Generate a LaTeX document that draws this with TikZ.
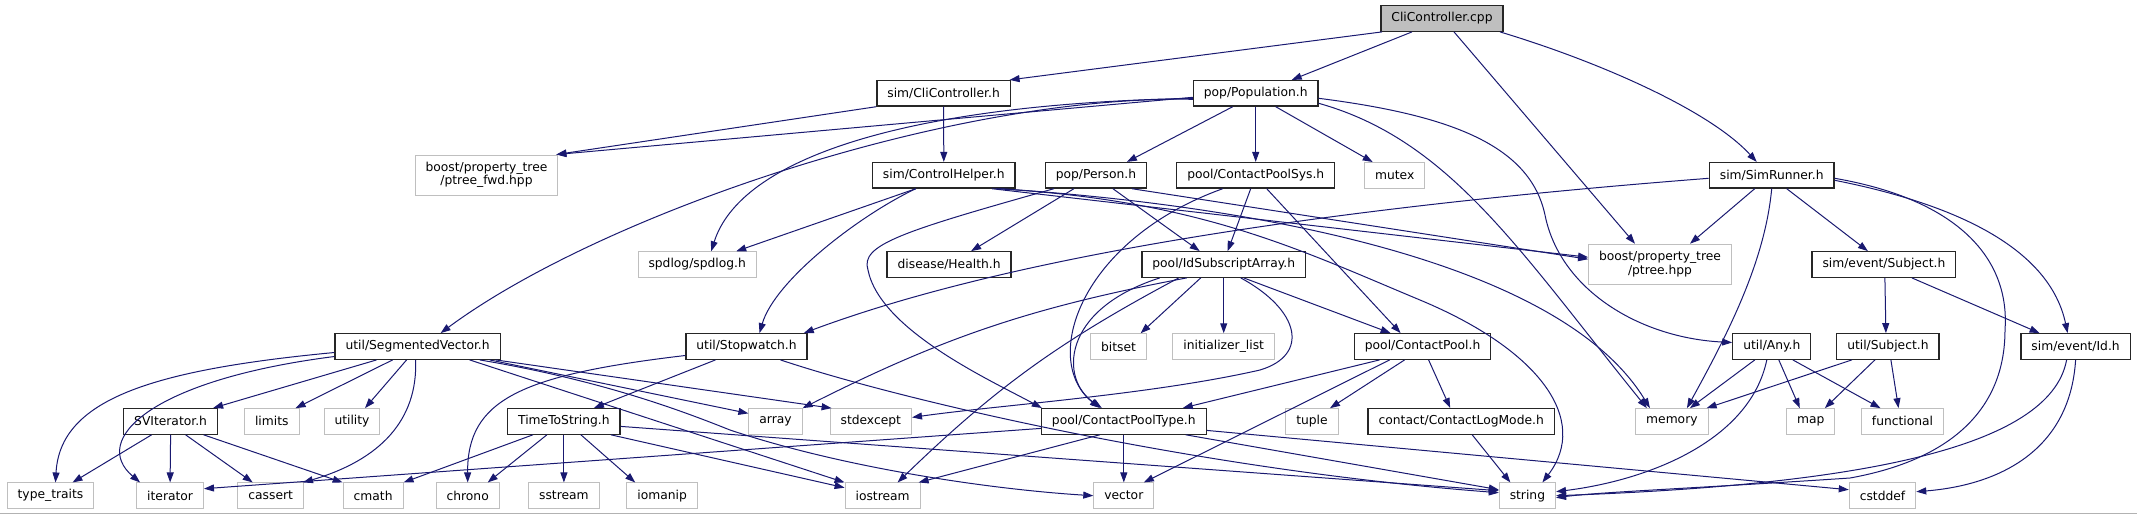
\documentclass[tikz,border=0pt]{standalone}
\usepackage{fontspec}
\setmainfont{DejaVu Sans}
\usetikzlibrary{arrows.meta}

\begin{document}
\begin{tikzpicture}[
        x=1pt, y=-1pt,
        hdr/.style={draw=black!85, line width=1.3pt, fill=white, align=center, inner xsep=10.5pt, inner ysep=0pt, minimum height=25.5pt, font=\fontsize{12.3}{13.5}\selectfont},
        sysh/.style={hdr, draw=black!25, line width=1pt},
        srcf/.style={hdr, fill=black!25},
        twol/.style={minimum height=40pt},
        dep/.style={-{Triangle[length=10pt,width=7pt]}, draw={rgb,255:red,25;green,25;blue,112}, line width=1pt}
    ]
        \useasboundingbox (0,0) rectangle (2137,515);
        \draw[black!30, line width=1pt] (0,513.5) -- (2137,513.5);

        % rows of headers, top to bottom
        \node[srcf] (cpp) at (1442,18.5) {CliController.cpp};
        \node[hdr] (cli) at (943.6,93.3) {sim/CliController.h};
        \node[hdr] (popu) at (1255.7,93.3) {pop/Population.h};

        \node[sysh, twol] (fwd) at (486.5,175) {boost/property\_tree\\/ptree\_fwd.hpp};
        \node[hdr] (ctrl) at (943.8,175.3) {sim/ControlHelper.h};
        \node[hdr] (person) at (1095.9,175.3) {pop/Person.h};
        \node[hdr] (sys) at (1255.7,175.3) {pool/ContactPoolSys.h};
        \node[sysh] (mutex) at (1394.7,175.3) {mutex};
        \node[hdr] (runner) at (1771.7,175.3) {sim/SimRunner.h};

        \node[sysh] (spdlog) at (697.2,264.5) {spdlog/spdlog.h};
        \node[hdr] (health) at (949.1,264.5) {disease/Health.h};
        \node[hdr] (idsub) at (1223.7,264.5) {pool/IdSubscriptArray.h};
        \node[sysh, twol] (ptree) at (1660,264.2) {boost/property\_tree\\/ptree.hpp};
        \node[hdr] (subj) at (1883.9,264.5) {sim/event/Subject.h};

        \node[hdr] (segvec) at (417.6,346.5) {util/SegmentedVector.h};
        \node[hdr] (watch) at (746.5,346.5) {util/Stopwatch.h};
        \node[sysh] (bitset) at (1118.6,346.5) {bitset};
        \node[sysh] (initlist) at (1223.7,346.5) {initializer\_list};
        \node[hdr] (cpool) at (1422.6,346.5) {pool/ContactPool.h};
        \node[hdr] (any) at (1771.8,346.5) {util/Any.h};
        \node[hdr] (usubj) at (1887.9,346.5) {util/Subject.h};
        \node[hdr] (eid) at (2075.6,346.5) {sim/event/Id.h};

        \node[hdr] (sviter) at (170.6,421.4) {SVIterator.h};
        \node[sysh] (limits) at (271.8,421.4) {limits};
        \node[sysh] (utility) at (352,421.4) {utility};
        \node[hdr] (tts) at (563.9,421.4) {TimeToString.h};
        \node[sysh] (array) at (775.5,421.4) {array};
        \node[sysh] (stdexcept) at (870.8,421.4) {stdexcept};
        \node[hdr] (cptype) at (1123.8,421.4) {pool/ContactPoolType.h};
        \node[sysh] (tuple) at (1312,421.4) {tuple};
        \node[hdr] (logmode) at (1461.2,421.4) {contact/ContactLogMode.h};
        \node[sysh] (memory) at (1671.9,421.4) {memory};
        \node[sysh] (map) at (1810.8,421.4) {map};
        \node[sysh] (functional) at (1902.5,421.4) {functional};

        \node[sysh] (typetr) at (50.5,495.7) {type\_traits};
        \node[sysh] (iterator) at (170.1,495.7) {iterator};
        \node[sysh] (cassert) at (270.7,495.7) {cassert};
        \node[sysh] (cmath) at (373.1,495.7) {cmath};
        \node[sysh] (chrono) at (467.7,495.7) {chrono};
        \node[sysh] (sstream) at (563.9,495.7) {sstream};
        \node[sysh] (iomanip) at (662.2,495.7) {iomanip};
        \node[sysh] (iostream) at (882.6,495.7) {iostream};
        \node[sysh] (vector) at (1123.8,495.7) {vector};
        \node[sysh] (string) at (1527.4,495.7) {string};
        \node[sysh] (cstddef) at (1882.5,495.7) {cstddef};

        % CliController.cpp
        \draw[dep] ([xshift=-60pt]cpp.south) -- ([xshift=66pt]cli.north);
        \draw[dep] ([xshift=-30pt]cpp.south) -- ([xshift=36pt]popu.north);
        \draw[dep] ([xshift=12pt]cpp.south) -- ([xshift=-25pt]ptree.north);
        \draw[dep] ([xshift=58pt]cpp.south) .. controls (1600,62) and (1710,110.7) .. ([xshift=-15pt]runner.north);

        % sim/CliController.h and pop/Population.h
        \draw[dep] (cli.south west) -- ([xshift=-2pt]fwd.north east);
        \draw[dep] (cli.south) -- (ctrl.north);
        \draw[dep] ([yshift=-4pt]popu.west) -- ([xshift=-2pt]fwd.north east);
        \draw[dep] ([yshift=-5pt]popu.west) .. controls (900,104) and (740,160) .. ([xshift=14pt]spdlog.north);
        \draw[dep] ([yshift=-6pt]popu.west) .. controls (950,95) and (600,215) .. ([xshift=23pt]segvec.north);
        \draw[dep] ([xshift=-23pt]popu.south) -- ([xshift=31pt]person.north);
        \draw[dep] (popu.south) -- (sys.north);
        \draw[dep] ([xshift=20pt]popu.south) -- ([xshift=-22pt]mutex.north);
        \draw[dep] ([yshift=-10pt]popu.east) .. controls (1450,140) and (1520,251.7) .. ([xshift=-25pt]memory.north);
        \draw[dep] ([yshift=-5pt]popu.east) .. controls (1450,115) and (1530,145) .. (1545,215)
            .. controls (1560,290) and (1640,338) .. ([yshift=4pt]any.west);

        % second row
        \draw[dep] ([xshift=-28pt]ctrl.south) -- ([xshift=39pt]spdlog.north);
        \draw[dep] ([xshift=-28pt]ctrl.south) .. controls (860,215) and (775,280) .. ([xshift=13pt]watch.north);
        \draw[dep] ([xshift=48pt]ctrl.south) -- ([yshift=7pt]ptree.west);
        \draw[dep] ([xshift=56pt]ctrl.south) .. controls (1250,205) and (1560,260) .. ([xshift=-22pt]memory.north);
        \draw[dep] ([xshift=52pt]ctrl.south) .. controls (1200,200) and (1300,250) .. (1420,300)
            .. controls (1540,350) and (1590,420) .. ([xshift=15pt]string.north);
        \draw[dep] ([xshift=36pt]person.south) -- ([yshift=5pt]ptree.west);
        \draw[dep] ([xshift=-22pt]person.south) -- ([xshift=22pt]health.north);
        \draw[dep] ([xshift=17pt]person.south) -- ([xshift=-24pt]idsub.north);
        \draw[dep] ([xshift=-42pt]person.south) .. controls (900,232) and (860,245) .. (868,270)
            .. controls (880,330) and (990,380) .. ([xshift=-82pt]cptype.north);
        \draw[dep] ([xshift=-5pt]sys.south) -- ([xshift=4pt]idsub.north);
        \draw[dep] ([xshift=11pt]sys.south) -- ([xshift=-22pt]cpool.north);
        \draw[dep] ([xshift=-33pt]sys.south) .. controls (1080,240) and (1040,360) .. ([xshift=-24pt]cptype.north);
        \draw[dep] ([yshift=-3pt]runner.west) .. controls (1300,210) and (1000,260) .. ([xshift=-4pt]watch.north east);
        \draw[dep] ([xshift=-17pt]runner.south) -- ([xshift=30pt]ptree.north);
        \draw[dep] (runner.south) .. controls (1765,260) and (1730,330) .. ([xshift=15pt]memory.north);
        \draw[dep] ([xshift=15pt]runner.south) -- ([xshift=-16pt]subj.north);
        \draw[dep] ([yshift=-5pt]runner.east) .. controls (1960,205) and (2050,250) .. ([xshift=-8pt]eid.north);
        \draw[dep] ([yshift=-3pt]runner.east) .. controls (1960,200) and (2010,260) .. (2005,330)
            .. controls (2005,410) and (1950,460) .. (1850,478)
            .. controls (1700,488) and (1600,492) .. ([yshift=-2pt]string.east);

        % third row
        \draw[dep] ([xshift=-64pt]idsub.south) .. controls (1060,310) and (1060,380) .. ([xshift=-22pt]cptype.north);
        \draw[dep] ([xshift=-37pt]idsub.south) to[bend right=8] (array.north east);
        \draw[dep] ([xshift=-45pt]idsub.south) to[bend right=8] ([xshift=15pt]iostream.north);
        \draw[dep] ([xshift=-23pt]idsub.south) -- ([xshift=22pt]bitset.north);
        \draw[dep] (idsub.south) -- (initlist.north);
        \draw[dep] ([xshift=20pt]idsub.south) -- ([xshift=-32pt]cpool.north);
        \draw[dep] ([xshift=17pt]idsub.south) .. controls (1300,310) and (1310,355) .. (1260,370)
            .. controls (1150,395) and (1000,405) .. ([yshift=4pt]stdexcept.east);
        \draw[dep] ([xshift=1pt]subj.south) -- ([xshift=-2pt]usubj.north);
        \draw[dep] ([xshift=28pt]subj.south) -- ([xshift=-36pt]eid.north);

        % fourth row
        \draw[dep] ([yshift=-6pt]segvec.west) .. controls (150,370) and (60,400) .. ([xshift=5pt]typetr.north);
        \draw[dep] ([yshift=-10pt]segvec.west) .. controls (150,380) and (90,440) .. ([xshift=-30pt]iterator.north);
        \draw[dep] ([xshift=-41pt]segvec.south) -- ([xshift=-5pt]sviter.north east);
        \draw[dep] ([xshift=-25pt]segvec.south) -- ([xshift=-4pt]limits.north east);
        \draw[dep] ([xshift=-11pt]segvec.south) -- ([xshift=13pt]utility.north);
        \draw[dep] ([xshift=-2pt]segvec.south) .. controls (418,420) and (380,460) .. ([xshift=-1pt]cassert.north east);
        \draw[dep] ([xshift=72pt]segvec.south) -- ([yshift=8pt]array.west);
        \draw[dep] ([xshift=78pt]segvec.south) -- ([xshift=2pt]stdexcept.north west);
        \draw[dep] ([xshift=52pt]segvec.south) -- (iostream.north west);
        \draw[dep] ([xshift=62pt]segvec.south) .. controls (600,380) and (680,410) .. (730,430)
            .. controls (850,470) and (1000,490) .. (vector.west);
        \draw[dep] ([yshift=-9pt]watch.west) .. controls (520,375) and (467,400) .. (chrono.north);
        \draw[dep] ([xshift=-31pt]watch.south) -- ([xshift=30pt]tts.north);
        \draw[dep] ([xshift=34pt]watch.south) .. controls (900,400) and (1200,470) .. ([yshift=3pt]string.west);
        \draw[dep] ([xshift=-43pt]cpool.south) -- ([xshift=59pt]cptype.north);
        \draw[dep] ([xshift=-33pt]cpool.south) -- ([xshift=20pt]vector.north);
        \draw[dep] ([xshift=-18pt]cpool.south) -- ([xshift=18pt]tuple.north);
        \draw[dep] ([xshift=6pt]cpool.south) -- ([xshift=-11pt]logmode.north);
        \draw[dep] ([xshift=-17pt]any.south) -- ([xshift=18pt]memory.north);
        \draw[dep] ([xshift=-5pt]any.south) .. controls (1750,440) and (1650,480) .. ([yshift=4pt]string.east);
        \draw[dep] ([xshift=7pt]any.south) -- ([xshift=-11pt]map.north);
        \draw[dep] ([xshift=21pt]any.south) -- ([xshift=-22pt]functional.north);
        \draw[dep] ([xshift=-36pt]usubj.south) -- ([xshift=-2pt]memory.north east);
        \draw[dep] ([xshift=-13pt]usubj.south) -- ([xshift=14pt]map.north);
        \draw[dep] ([xshift=3pt]usubj.south) -- ([xshift=-4pt]functional.north);
        \draw[dep] ([xshift=-9pt]eid.south) .. controls (2050,450) and (1850,485) .. (string.east);
        \draw[dep] (eid.south) .. controls (2070,450) and (2000,485) .. ([yshift=4pt]cstddef.east);

        % bottom row
        \draw[dep] ([xshift=-19pt]sviter.south) -- ([xshift=22pt]typetr.north);
        \draw[dep] (sviter.south) -- (iterator.north);
        \draw[dep] ([xshift=15pt]sviter.south) -- ([xshift=-18pt]cassert.north);
        \draw[dep] ([xshift=33pt]sviter.south) -- (cmath.north west);
        \draw[dep] ([xshift=-31pt]tts.south) -- (cmath.north east);
        \draw[dep] ([xshift=-17pt]tts.south) -- ([xshift=20pt]chrono.north);
        \draw[dep] (tts.south) -- (sstream.north);
        \draw[dep] ([xshift=17pt]tts.south) -- ([xshift=-27pt]iomanip.north);
        \draw[dep] ([xshift=47pt]tts.south) -- ([yshift=8pt]iostream.west);
        \draw[dep] ([yshift=-5pt]tts.east) -- ([yshift=5pt]string.west);
        \draw[dep] ([yshift=-7pt]cptype.west) -- ([yshift=7pt]iterator.east);
        \draw[dep] ([xshift=-24pt]cptype.south) -- ([xshift=-2pt]iostream.north east);
        \draw[dep] (cptype.south) -- (vector.north);
        \draw[dep] ([xshift=62pt]cptype.south) -- ([yshift=6pt]string.west);
        \draw[dep] ([yshift=-9pt]cptype.east) -- ([yshift=6pt]cstddef.west);
        \draw[dep] ([xshift=11pt]logmode.south) -- ([xshift=-17pt]string.north);
    \end{tikzpicture}
\end{document}
